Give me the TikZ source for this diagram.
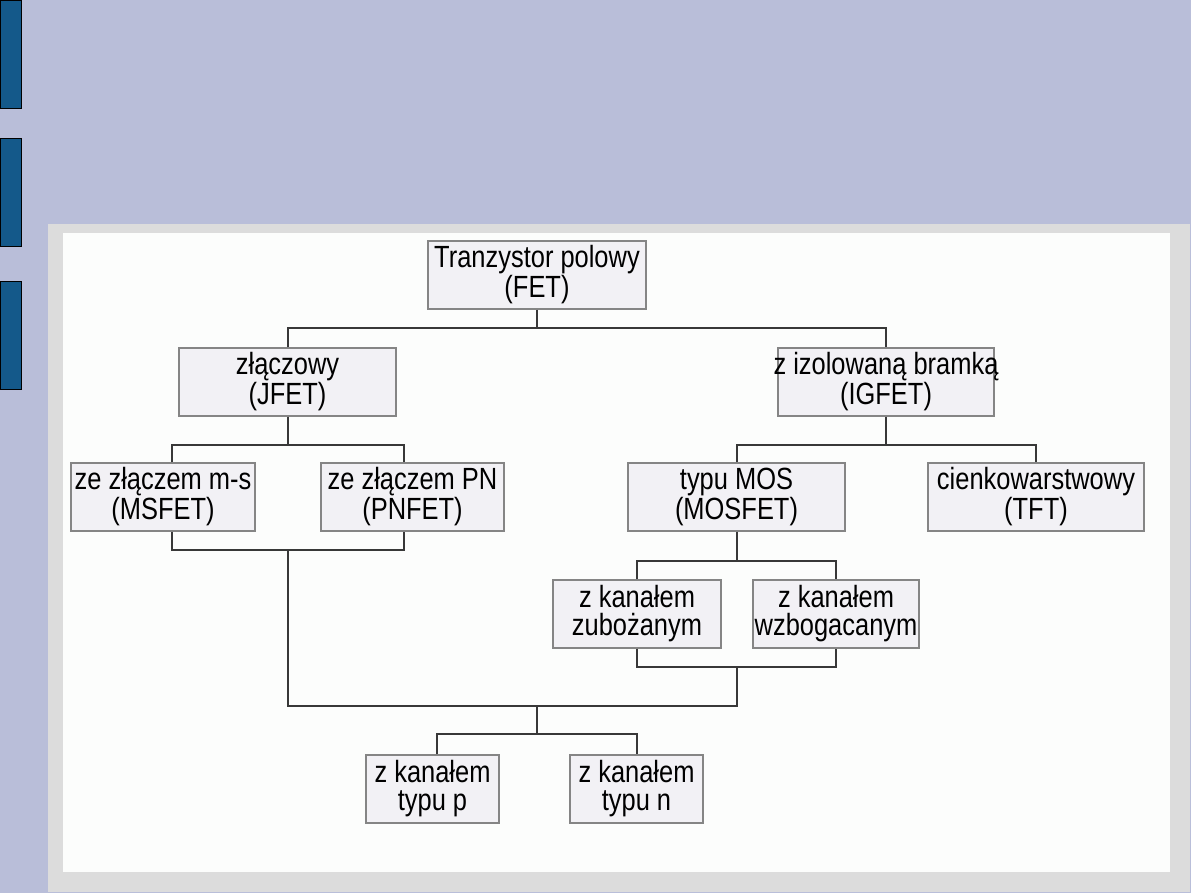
\documentclass[tikz,border=0pt]{standalone}
\usepackage{fontspec}
\setmainfont{Liberation Sans}[FakeStretch=0.83]
\definecolor{bgc}{HTML}{B9BED9}
\definecolor{barc}{HTML}{14598A}
\definecolor{panelc}{HTML}{DCDCDC}
\definecolor{innerc}{HTML}{FCFDFC}
\definecolor{boxfill}{HTML}{F2F1F5}
\definecolor{boxline}{HTML}{858585}
\definecolor{linec}{HTML}{383838}
\tikzset{
  box/.style={draw=boxline, line width=1pt, fill=boxfill, minimum height=51pt, inner sep=0pt},
  txt/.style={align=center, inner sep=0pt, font=\fontsize{23pt}{21pt}\selectfont, text=black},
  conn/.style={draw=linec, line width=1.5pt},
}
\begin{document}
\begin{tikzpicture}[x=0.75pt, y=-0.75pt]
\useasboundingbox (0,0) rectangle (1191,893);
\fill[bgc] (0,0) rectangle (1191,893);
% side bars
\draw[fill=barc, line width=0.75pt] (0.5,0.5) rectangle (21,108);
\draw[fill=barc, line width=0.75pt] (0.5,138) rectangle (21,246);
\draw[fill=barc, line width=0.75pt] (0.5,281) rectangle (21,389);
% panel
\fill[panelc] (48,224) rectangle (1190,892);
\fill[innerc] (63,233) rectangle (1170,872);

% boxes
\node[box, minimum width=163.5pt] (fet) at (537,275) {};
\node[box, minimum width=162.75pt] (jfet) at (287.5,382) {};
\node[box, minimum width=162pt] (igfet) at (886,382) {};
\node[box, minimum width=138pt] (msfet) at (163,497) {};
\node[box, minimum width=137.25pt] (pnfet) at (412.5,497) {};
\node[box, minimum width=162.75pt] (mosfet) at (736.5,497) {};
\node[box, minimum width=162pt] (tft) at (1036,497) {};
\node[box, minimum width=126pt] (zub) at (637,614) {};
\node[box, minimum width=124.5pt] (wzb) at (836,614) {};
\node[box, minimum width=99.75pt] (typp) at (432.5,789) {};
\node[box, minimum width=99.75pt] (typn) at (636.5,789) {};

% texts
\node[txt] (fett) at (fet) {Tranzystor polowy\\(FET)};
\node[txt] (jfett) at (jfet) {złączowy\\(JFET)};
\node[txt] (igfett) at (igfet) {z izolowaną bramką\\(IGFET)};
\node[txt] (msfett) at (msfet) {ze złączem m-s\\(MSFET)};
\node[txt] (pnfett) at (pnfet) {ze złączem PN\\(PNFET)};
\node[txt] (mosfett) at (mosfet) {typu MOS\\(MOSFET)};
\node[txt] (tftt) at (tft) {cienkowarstwowy\\(TFT)};
\node[txt] (zubt) at (zub) {z kanałem\\zubożanym};
\node[txt] (wzbt) at (wzb) {z kanałem\\wzbogacanym};
\node[txt] (typpt) at (typp) {z kanałem\\typu p};
\node[txt] (typnt) at (typn) {z kanałem\\typu n};

% junctions
\coordinate (j1) at (537,328);
\coordinate (j2) at (287.5,445);
\coordinate (j3) at (886,445);
\coordinate (j4) at (288,550);
\coordinate (j5) at (736.5,561);
\coordinate (j7) at (736.5,667);
\coordinate (j8) at (736.5,706);
\coordinate (j9) at (537,706);
\coordinate (j10) at (537,734);

% connectors
\draw[conn] (fet.south) -- (j1);
\draw[conn] (jfet.north) |- (j1) -| (igfet.north);
\draw[conn] (jfet.south) -- (j2);
\draw[conn] ([xshift=6.75pt]msfet.north) |- (j2) -| ([xshift=-6.2pt]pnfet.north);
\draw[conn] (igfet.south) -- (j3);
\draw[conn] (mosfet.north) |- (j3) -| (tft.north);
\draw[conn] ([xshift=6.75pt]msfet.south) |- (j4) -| ([xshift=-6.2pt]pnfet.south);
\draw[conn] (mosfet.south) -- (j5);
\draw[conn] (zub.north) |- (j5) -| (wzb.north);
\draw[conn] (zub.south) |- (j7) -| (wzb.south);
\draw[conn] (j4) |- (j8) -- (j7);
\draw[conn] (j9) -- (j10);
\draw[conn] ([xshift=3pt]typp.north) |- (j10) -| (typn.north);
\end{tikzpicture}
\end{document}
